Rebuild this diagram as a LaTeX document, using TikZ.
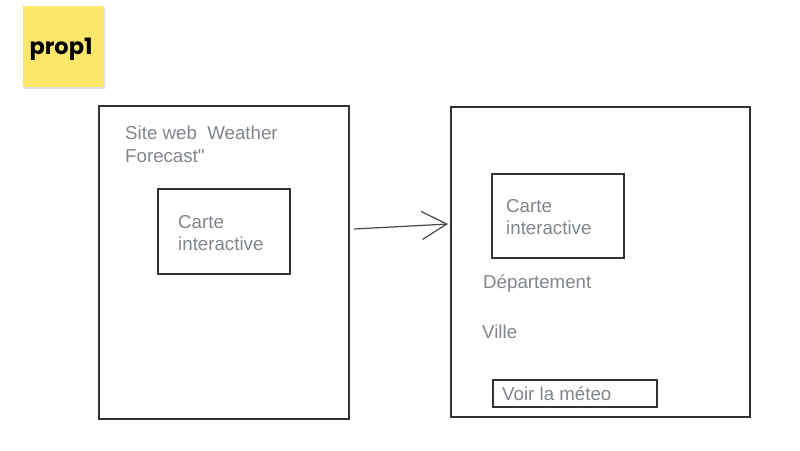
\documentclass[tikz,border=0pt]{standalone}
\usepackage{fontspec}
\setmainfont{Liberation Sans}
\newfontfamily\uifont{Liberation Sans}
\newfontfamily\popfont{Poppins}[UprightFont=* Bold]
\usetikzlibrary{arrows.meta}
\definecolor{txtgray}{RGB}{128,134,139}
\definecolor{boxline}{RGB}{51,51,51}
\definecolor{sticky}{RGB}{253,230,106}
\tikzset{
  frame/.style={draw=boxline, line width=2.6pt, fill=white},
  label/.style={anchor=base west, inner sep=0pt, text=txtgray, font=\uifont\fontsize{18.7}{22}\selectfont},
  conn/.style={draw=boxline!90, line width=1.2pt, -{Straight Barb[length=25pt,width=28pt,line width=1.2pt]}}
}
\begin{document}
\begin{tikzpicture}[x=1pt,y=-1pt]
\useasboundingbox (0,0) rectangle (800,450);
% sticky note
\fill[black!12] (24,8) rectangle (105,89);
\node[fill=sticky, minimum width=81pt, minimum height=81pt, inner sep=0pt, anchor=north west] (note) at (23,6) {};
\node[anchor=base, inner sep=0pt, font=\popfont\fontsize{22.5}{26}\selectfont] (notetxt) at (61,54.5) {prop1};
% left screen
\draw[frame] (99,106) rectangle (349,419);
\coordinate (lscreen) at (99,106);
\node[label] (title1) at (125,139) {Site web\ \ Weather};
\node[label] (title2) at (125,162) {Forecast"};
\draw[frame] (158,189) rectangle (290,274);
\node[label] (lcarte1) at (178,228) {Carte};
\node[label] (lcarte2) at (178,250) {interactive};
% right screen
\draw[frame] (451,107) rectangle (750,417);
\draw[frame] (492,174) rectangle (624,258);
\node[label] (rcarte1) at (506,212) {Carte};
\node[label] (rcarte2) at (506,234) {interactive};
\node[label] (dep) at (483,288) {Département};
\node[label] (ville) at (482,338) {Ville};
\draw[frame] (493,380) rectangle (657,407);
\node[label] (voir) at (502,400) {Voir la méteo};
% arrow
\coordinate (astart) at (354,229);
\coordinate (aend) at (448,224);
\draw[conn] (astart) -- (aend);
\end{tikzpicture}
\end{document}
